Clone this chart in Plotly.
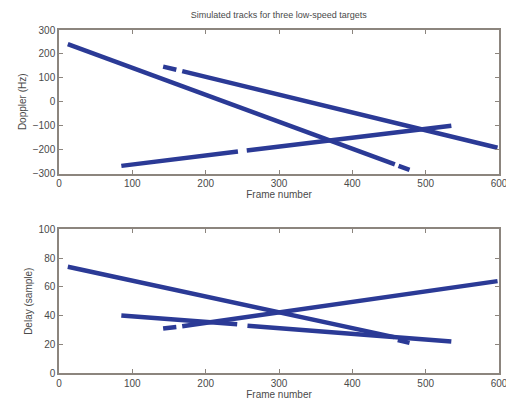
import plotly.graph_objects as go
from plotly.subplots import make_subplots

# Track segments (start/end frame, value); tracks are broken where detections drop out
frames_a = [12, 458, None, 463, 478]
doppler_a = [241, -262, None, -268, -285]
frames_b = [142, 160, None, 168, 598]
doppler_b = [147, 134, None, 128, -192]
frames_c = [85, 244, None, 256, 535]
doppler_c = [-268, -208, None, -204, -100]

delay_frames_a = [12, 457, None, 462, 478]
delay_a = [74, 25, None, 23, 21]
delay_frames_b = [142, 160, None, 168, 598]
delay_b = [31, 32, None, 32.5, 64]
delay_frames_c = [85, 243, None, 257, 535]
delay_c = [40, 34, None, 33, 22]

x_ticks = [0, 100, 200, 300, 400, 500, 600]
doppler_ticks = [300, 200, 100, 0, -100, -200, -300]
delay_ticks = [0, 20, 40, 60, 80, 100]

LINE = "#2b3a96"
FRAME = "#8c857e"
TXT = "#4a4a4a"
FONT = "Liberation Sans, Arial, sans-serif"

fig = make_subplots(rows=2, cols=1, vertical_spacing=0.163)

for xs, ys in [(frames_a, doppler_a), (frames_b, doppler_b), (frames_c, doppler_c)]:
    fig.add_trace(go.Scatter(x=xs, y=ys, mode="lines", connectgaps=False,
                             line=dict(color=LINE, width=4.5), showlegend=False),
                  row=1, col=1)
for xs, ys in [(delay_frames_a, delay_a), (delay_frames_b, delay_b), (delay_frames_c, delay_c)]:
    fig.add_trace(go.Scatter(x=xs, y=ys, mode="lines", connectgaps=False,
                             line=dict(color=LINE, width=4.5), showlegend=False),
                  row=2, col=1)

axis_style = dict(showline=True, linecolor=FRAME, linewidth=1.5, mirror="ticks",
                  ticks="inside", ticklen=4, tickcolor=FRAME, tickwidth=1,
                  showgrid=False, zeroline=False, automargin=False,
                  ticklabeloverflow="allow",
                  tickfont=dict(size=10, color=TXT, family=FONT))

fig.update_xaxes(range=[0, 600], tickvals=x_ticks, **axis_style)
fig.update_xaxes(title=dict(text="Frame number", font=dict(size=10, color=TXT, family=FONT), standoff=2),
                 row=1, col=1)
fig.update_xaxes(title=dict(text="Frame number", font=dict(size=10, color=TXT, family=FONT), standoff=2),
                 row=2, col=1)
fig.update_yaxes(range=[-300, 300], tickvals=doppler_ticks,
                 title=dict(text="Doppler (Hz)", font=dict(size=10, color=TXT, family=FONT), standoff=4),
                 row=1, col=1, **axis_style)
fig.update_yaxes(range=[0, 100], tickvals=delay_ticks,
                 title=dict(text="Delay (sample)", font=dict(size=10, color=TXT, family=FONT), standoff=4),
                 row=2, col=1, **axis_style)

fig.update_layout(
    width=506, height=412,
    margin=dict(l=59, r=7, t=30, b=39),
    paper_bgcolor="white", plot_bgcolor="white",
    title=dict(text="Simulated tracks for three low-speed targets",
               font=dict(size=9, color=TXT, family=FONT),
               x=0.551, xanchor="center", y=0.965, yanchor="middle"),
)

fig.write_html("out.html")
